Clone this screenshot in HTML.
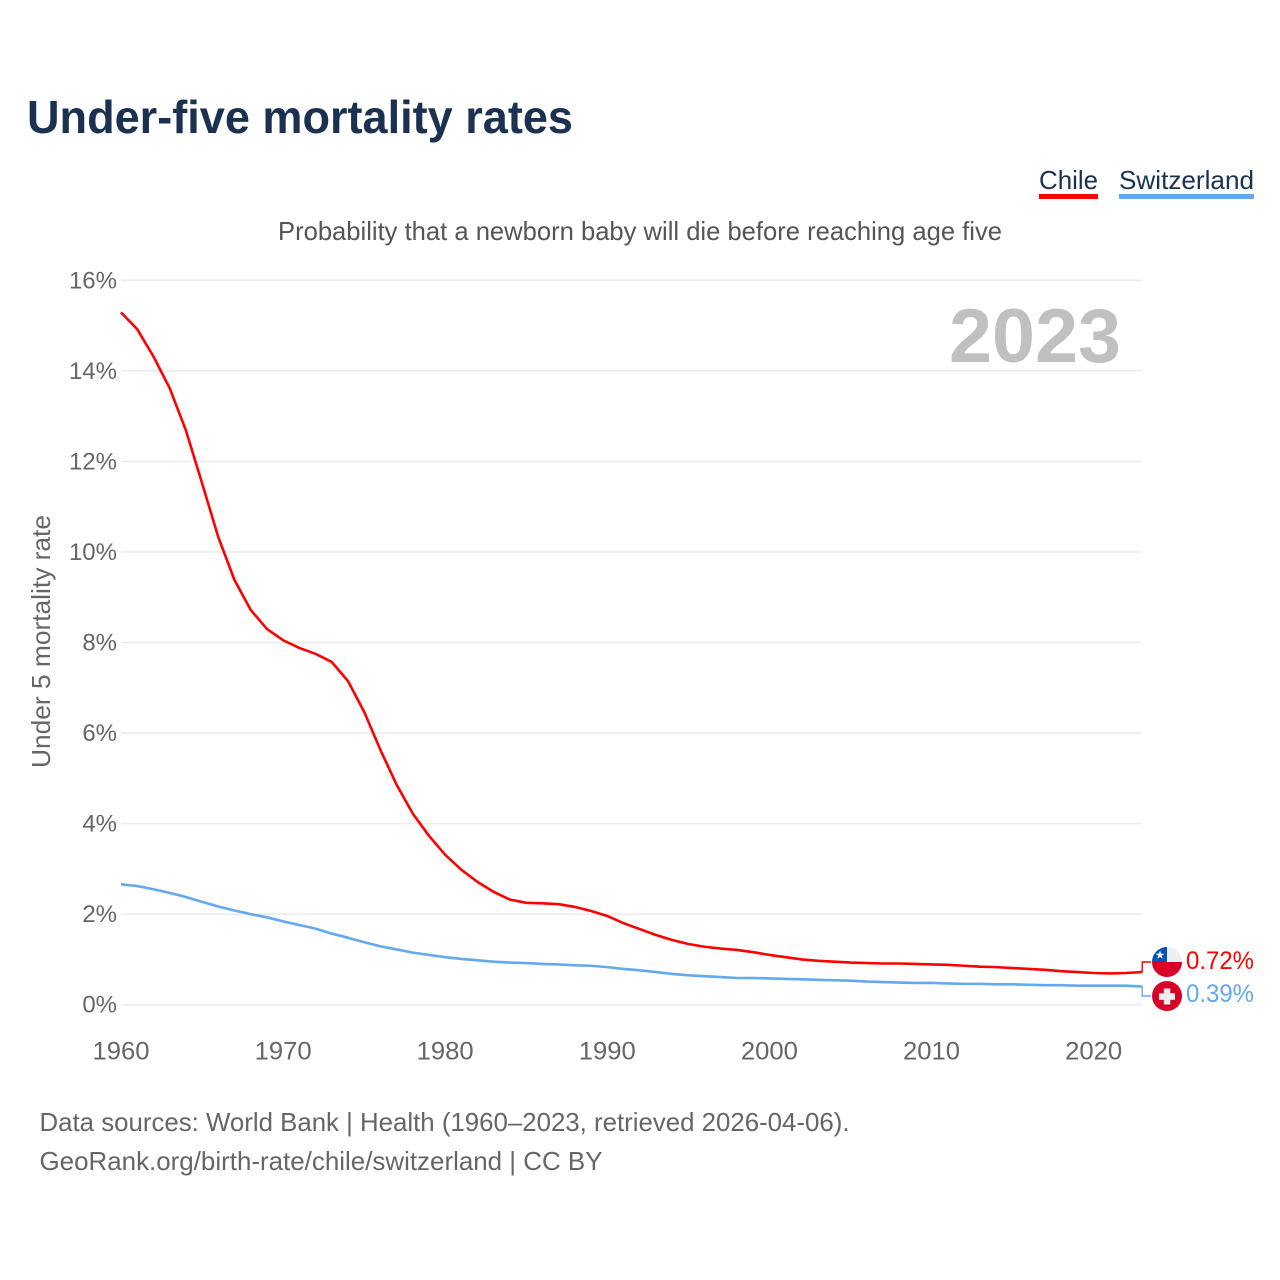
<!DOCTYPE html>
<html lang="en">
<head>
<meta charset="utf-8">
<title>Under-five mortality rates</title>
<style>
html,body{margin:0;padding:0;background:#fff;}
svg{display:block;font-family:"Liberation Sans",sans-serif;}
</style>
</head>
<body>
<svg id="chart" xmlns="http://www.w3.org/2000/svg" width="1280" height="1280" viewBox="0 0 1280 1280">
  <defs>
    <clipPath id="clip-chile"><circle cx="1167" cy="962" r="15"/></clipPath>
  </defs>
  <rect width="1280" height="1280" fill="#fff"/>
  <text x="27" y="133" font-size="46" font-weight="700" fill="#1a3152" textLength="546" lengthAdjust="spacingAndGlyphs">Under-five mortality rates</text>

  <g>
    <text x="1039" y="189" font-size="26" fill="#1a3152" textLength="59" lengthAdjust="spacingAndGlyphs">Chile</text>
    <rect x="1039" y="194" width="59" height="5" fill="#ff0000"/>
  </g>
  <g>
    <text x="1119" y="189" font-size="26" fill="#1a3152" textLength="135" lengthAdjust="spacingAndGlyphs">Switzerland</text>
    <rect x="1119" y="194" width="135" height="5" fill="#64a8ee"/>
  </g>

  <text x="278" y="240" font-size="26" fill="#555" textLength="724" lengthAdjust="spacingAndGlyphs">Probability that a newborn baby will die before reaching age five</text>

  <g id="grid"></g>
  <g id="yticks"></g>
  <g id="xticks"></g>

  <text x="949" y="362" font-size="76" font-weight="700" fill="#c0c0c0" textLength="172" lengthAdjust="spacingAndGlyphs">2023</text>

  <text transform="translate(50,768) rotate(-90)" font-size="26" fill="#666" textLength="253" lengthAdjust="spacingAndGlyphs">Under 5 mortality rate</text>

  <g id="series"></g>

  <g>
    <g clip-path="url(#clip-chile)">
      <rect x="1152" y="947" width="30" height="15" fill="#eeeeee"/>
      <rect x="1152" y="947" width="15" height="15" fill="#0052b4"/>
      <rect x="1152" y="962" width="30" height="15" fill="#d80027"/>
      <polygon points="1160,950.5 1161.2,953.6 1164.4,953.7 1161.8,955.7 1162.7,958.8 1160,957 1157.3,958.8 1158.2,955.7 1155.6,953.7 1158.8,953.6" fill="#eeeeee"/>
    </g>
  </g>
  <g>
    <circle cx="1167" cy="996" r="15" fill="#d80027"/>
    <rect x="1159" y="993.3" width="16" height="6.5" fill="#eeeeee"/>
    <rect x="1163.8" y="988.5" width="6.5" height="16" fill="#eeeeee"/>
  </g>

  <g id="endlabels"></g>

  <text x="39.5" y="1131" font-size="26" fill="#666" textLength="810" lengthAdjust="spacingAndGlyphs">Data sources: World Bank | Health (1960–2023, retrieved 2026-04-06).</text>
  <text x="39.5" y="1170" font-size="26" fill="#666" textLength="563" lengthAdjust="spacingAndGlyphs">GeoRank.org/birth-rate/chile/switzerland | CC BY</text>
</svg>
<script>
const years = [1960,1961,1962,1963,1964,1965,1966,1967,1968,1969,1970,1971,1972,1973,1974,1975,1976,1977,1978,1979,1980,1981,1982,1983,1984,1985,1986,1987,1988,1989,1990,1991,1992,1993,1994,1995,1996,1997,1998,1999,2000,2001,2002,2003,2004,2005,2006,2007,2008,2009,2010,2011,2012,2013,2014,2015,2016,2017,2018,2019,2020,2021,2022,2023];
const chileValues = [15.29,14.92,14.32,13.62,12.69,11.52,10.33,9.38,8.72,8.30,8.05,7.88,7.75,7.57,7.15,6.47,5.63,4.86,4.22,3.73,3.31,2.98,2.71,2.49,2.32,2.25,2.24,2.22,2.16,2.07,1.96,1.80,1.67,1.54,1.43,1.34,1.28,1.24,1.21,1.16,1.10,1.05,1.00,0.97,0.95,0.93,0.92,0.91,0.91,0.90,0.89,0.88,0.86,0.84,0.83,0.81,0.79,0.77,0.74,0.72,0.70,0.69,0.70,0.72];
const switzerlandValues = [2.66,2.62,2.55,2.47,2.38,2.27,2.17,2.08,2.00,1.93,1.84,1.76,1.68,1.57,1.48,1.38,1.29,1.22,1.15,1.10,1.05,1.01,0.98,0.95,0.93,0.92,0.90,0.89,0.87,0.86,0.83,0.79,0.76,0.72,0.68,0.65,0.63,0.61,0.59,0.59,0.58,0.57,0.56,0.55,0.54,0.53,0.51,0.50,0.49,0.48,0.48,0.47,0.46,0.46,0.45,0.45,0.44,0.43,0.43,0.42,0.42,0.42,0.42,0.40];
const yTickValues = [0,2,4,6,8,10,12,14,16];
const xTickValues = [1960,1970,1980,1990,2000,2010,2020];

const NS = 'http://www.w3.org/2000/svg';
function xScale(year) { return 121 + (year - 1960) * 16.21; }
function yScale(value) { return 1004.7 - value * (1004.7 - 280.3) / 16; }
function make(tag, attrs, parent) {
  const el = document.createElementNS(NS, tag);
  Object.keys(attrs).forEach(function (k) { el.setAttribute(k, attrs[k]); });
  parent.appendChild(el);
  return el;
}

const grid = document.getElementById('grid');
const yticks = document.getElementById('yticks');
const xticks = document.getElementById('xticks');
const series = document.getElementById('series');
const endlabels = document.getElementById('endlabels');

yTickValues.forEach(function (v) {
  const line = make('line', {x1: 121, x2: 1142, y1: yScale(v), y2: yScale(v), stroke: '#ececec', 'stroke-width': 1.6}, grid);
  
  
  const label = make('text', {x: 117, y: yScale(v) + 8, 'text-anchor': 'end', 'font-size': 24, fill: '#666'}, yticks);
  label.textContent = v + '%';
  
  
});

xTickValues.forEach(function (y) {
  const label = make('text', {x: xScale(y) - 28.5, y: 1059.5, 'font-size': 25, fill: '#666', textLength: 57, lengthAdjust: 'spacingAndGlyphs'}, xticks);
  label.textContent = y;
  
  
});

function linePath(values) {
  return values.map(function (v, i) {
    return (i ? 'L' : 'M') + xScale(years[i]).toFixed(2) + ' ' + yScale(v).toFixed(2);
  }).join(' ');
}

const switzerlandLine = make('path', {d: linePath(switzerlandValues), fill: 'none', stroke: '#64a8ee', 'stroke-width': 2.6, 'stroke-linejoin': 'round'}, series);


const chileLine = make('path', {d: linePath(chileValues), fill: 'none', stroke: '#ff0000', 'stroke-width': 2.6, 'stroke-linejoin': 'round'}, series);



const lastYear = years[years.length - 1];
const chileLast = chileValues[chileValues.length - 1];
const switzerlandLast = switzerlandValues[switzerlandValues.length - 1];

const chileConnector = make('path', {d: 'M' + xScale(lastYear) + ' ' + yScale(chileLast) + ' V962 H1151', fill: 'none', stroke: '#ff0000', 'stroke-width': 1.4}, endlabels);


const switzerlandConnector = make('path', {d: 'M' + xScale(lastYear) + ' ' + yScale(switzerlandLast) + ' V996 H1151', fill: 'none', stroke: '#64a8ee', 'stroke-width': 1.4}, endlabels);



const chileLabel = make('text', {x: 1186, y: 969, 'font-size': 25, fill: '#ff0000', textLength: 68, lengthAdjust: 'spacingAndGlyphs'}, endlabels);
chileLabel.textContent = chileLast.toFixed(2) + '%';


const switzerlandLabel = make('text', {x: 1186, y: 1002, 'font-size': 25, fill: '#64a8ee', textLength: 68, lengthAdjust: 'spacingAndGlyphs'}, endlabels);
switzerlandLabel.textContent = (switzerlandLast - 0.01).toFixed(2) + '%';


</script>
</body>
</html>
